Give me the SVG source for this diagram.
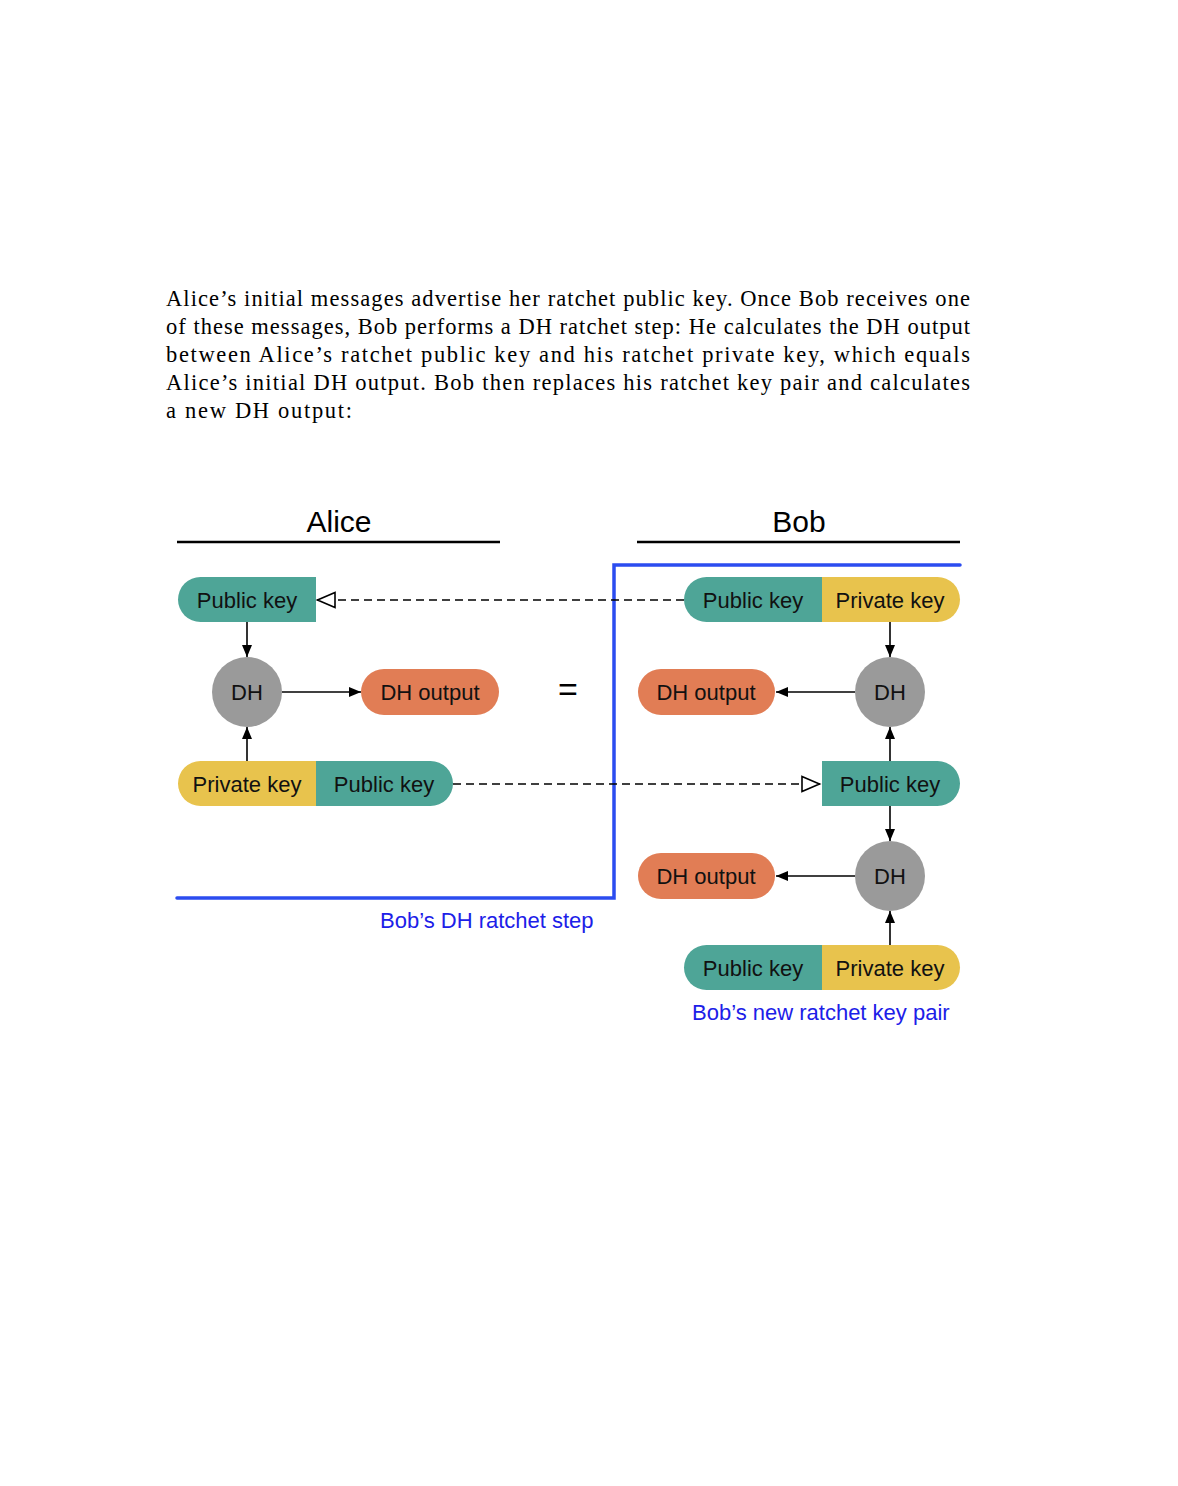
<svg xmlns="http://www.w3.org/2000/svg" width="1178" height="1486" viewBox="0 0 1178 1486">
<style>
.para{font-family:"Liberation Serif","Times New Roman",serif;font-size:22.5px;fill:#000}
.lbl{font-family:"Liberation Sans",Arial,sans-serif;font-size:22px;fill:#111;text-anchor:middle;dominant-baseline:central}
.head{font-family:"Liberation Sans",Arial,sans-serif;font-size:30px;fill:#000;text-anchor:middle}
.blue{font-family:"Liberation Sans",Arial,sans-serif;font-size:22px;fill:#1c20e8}
.pub{fill:#4ea597}.priv{fill:#e8c34d}.out{fill:#e17d55}.dh{fill:#9a9a9a}
.arr{stroke:#000;stroke-width:1.6;fill:none;marker-end:url(#ah)}
.dash{stroke:#000;stroke-width:1.6;fill:none;stroke-dasharray:8 5;marker-end:url(#open)}
</style>
<defs>
<marker id="ah" viewBox="0 0 12 10" refX="12" refY="5" markerWidth="12" markerHeight="10" markerUnits="userSpaceOnUse" orient="auto"><path d="M0,0 L12,5 L0,10 Z" fill="#000"/></marker>
<marker id="open" viewBox="0 0 21 18" refX="19.5" refY="9" markerWidth="21" markerHeight="18" markerUnits="userSpaceOnUse" orient="auto"><path d="M1.5,1.5 L19,9 L1.5,16.5 Z" fill="#fff" stroke="#000" stroke-width="1.6"/></marker>
</defs>
<rect width="1178" height="1486" fill="#fff"/>
<g id="paragraph">
<text class="para" x="166" y="306" textLength="804" lengthAdjust="spacing">Alice’s initial messages advertise her ratchet public key. Once Bob receives one</text>
<text class="para" x="166" y="334" textLength="804" lengthAdjust="spacing">of these messages, Bob performs a DH ratchet step: He calculates the DH output</text>
<text class="para" x="166" y="362" textLength="804" lengthAdjust="spacing">between Alice’s ratchet public key and his ratchet private key, which equals</text>
<text class="para" x="166" y="390" textLength="804" lengthAdjust="spacing">Alice’s initial DH output. Bob then replaces his ratchet key pair and calculates</text>
<text class="para" x="166" y="418" textLength="186" lengthAdjust="spacing">a new DH output:</text>
</g>
<g id="headers">
<text class="head" x="339" y="532">Alice</text>
<line x1="177" y1="542" x2="500" y2="542" stroke="#000" stroke-width="2.5"/>
<text class="head" x="799" y="532">Bob</text>
<line x1="637" y1="542" x2="960" y2="542" stroke="#000" stroke-width="2.5"/>
</g>
<g id="ratchet-step-border">
<polyline points="960,565 614,565 614,898 177,898" fill="none" stroke="#2b4cf0" stroke-width="3.5" stroke-linejoin="miter" stroke-linecap="round"/>
<text class="blue" x="380" y="928">Bob’s DH ratchet step</text>
</g>
<g id="connectors">
<line class="dash" x1="684" y1="600" x2="317" y2="600"/>
<line class="dash" x1="453" y1="784" x2="820" y2="784"/>
<line class="arr" x1="247" y1="622" x2="247" y2="657"/>
<line class="arr" x1="282" y1="692" x2="361" y2="692"/>
<line class="arr" x1="247" y1="761" x2="247" y2="727"/>
<line class="arr" x1="890" y1="622" x2="890" y2="657"/>
<line class="arr" x1="855" y1="692" x2="776" y2="692"/>
<line class="arr" x1="890" y1="761" x2="890" y2="727"/>
<line class="arr" x1="890" y1="806" x2="890" y2="841"/>
<line class="arr" x1="855" y1="876" x2="776" y2="876"/>
<line class="arr" x1="890" y1="945" x2="890" y2="911"/>
</g>
<g id="alice-public-key">
<path class="pub" d="M200.5,577 H316 V622 H200.5 A22.5,22.5 0 0 1 200.5,577 Z"/>
<text class="lbl" x="247" y="600">Public key</text>
</g>
<g id="alice-dh">
<circle class="dh" cx="247" cy="692" r="35"/>
<text class="lbl" x="247" y="692">DH</text>
</g>
<g id="alice-dh-output">
<rect class="out" x="361" y="669" width="138" height="46" rx="23"/>
<text class="lbl" x="430" y="692">DH output</text>
</g>
<g id="equals">
<text x="568" y="701" font-family="Liberation Sans,Arial,sans-serif" font-size="34" text-anchor="middle">=</text>
</g>
<g id="alice-key-pair">
<path class="priv" d="M200.5,761 H316 V806 H200.5 A22.5,22.5 0 0 1 200.5,761 Z"/>
<path class="pub" d="M316,761 H430.5 A22.5,22.5 0 0 1 430.5,806 H316 Z"/>
<text class="lbl" x="247" y="784">Private key</text>
<text class="lbl" x="384" y="784">Public key</text>
</g>
<g id="bob-key-pair">
<path class="pub" d="M706.5,577 H822 V622 H706.5 A22.5,22.5 0 0 1 706.5,577 Z"/>
<path class="priv" d="M822,577 H937.5 A22.5,22.5 0 0 1 937.5,622 H822 Z"/>
<text class="lbl" x="753" y="600">Public key</text>
<text class="lbl" x="890" y="600">Private key</text>
</g>
<g id="bob-dh-1">
<circle class="dh" cx="890" cy="692" r="35"/>
<text class="lbl" x="890" y="692">DH</text>
</g>
<g id="bob-dh-output-1">
<rect class="out" x="638" y="669" width="137" height="46" rx="23"/>
<text class="lbl" x="706" y="692">DH output</text>
</g>
<g id="bob-alice-public-key">
<path class="pub" d="M822,761 H937.5 A22.5,22.5 0 0 1 937.5,806 H822 Z"/>
<text class="lbl" x="890" y="784">Public key</text>
</g>
<g id="bob-dh-2">
<circle class="dh" cx="890" cy="876" r="35"/>
<text class="lbl" x="890" y="876">DH</text>
</g>
<g id="bob-dh-output-2">
<rect class="out" x="638" y="853" width="137" height="46" rx="23"/>
<text class="lbl" x="706" y="876">DH output</text>
</g>
<g id="bob-new-key-pair">
<path class="pub" d="M706.5,945 H822 V990 H706.5 A22.5,22.5 0 0 1 706.5,945 Z"/>
<path class="priv" d="M822,945 H937.5 A22.5,22.5 0 0 1 937.5,990 H822 Z"/>
<text class="lbl" x="753" y="968">Public key</text>
<text class="lbl" x="890" y="968">Private key</text>
<text class="blue" x="692" y="1020">Bob’s new ratchet key pair</text>
</g>
</svg>
